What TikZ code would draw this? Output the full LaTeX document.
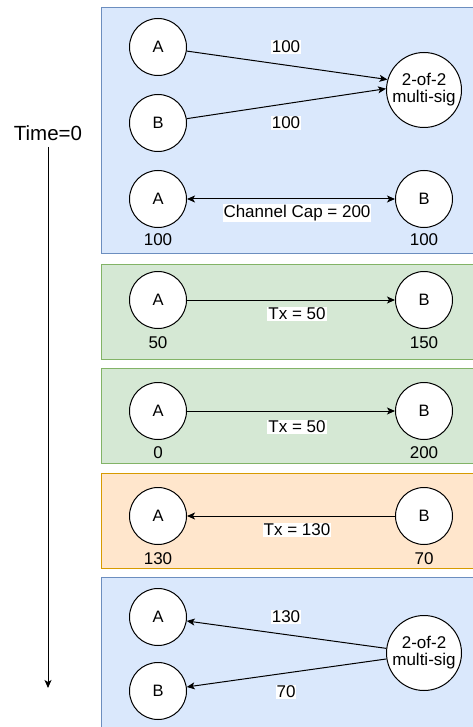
\documentclass[tikz,border=0pt]{standalone}
\usepackage{fontspec}
\setmainfont{Liberation Sans}
\usetikzlibrary{arrows.meta}
\definecolor{bluefill}{HTML}{DAE8FC}
\definecolor{bluedraw}{HTML}{6C8EBF}
\definecolor{greenfill}{HTML}{D5E8D4}
\definecolor{greendraw}{HTML}{82B366}
\definecolor{orangefill}{HTML}{FFE6CC}
\definecolor{orangedraw}{HTML}{D79B00}
\begin{document}
\begin{tikzpicture}[x=1pt,y=-1pt,
  party/.style={circle,draw,line width=1pt,fill=white,minimum size=57pt,inner sep=0pt,font=\fontsize{16.5}{19}\selectfont},
  msig/.style={circle,draw,line width=1pt,fill=white,minimum size=75pt,inner sep=0pt,align=center,font=\fontsize{17}{17}\selectfont},
  elabel/.style={fill=white,inner sep=1pt,font=\fontsize{17}{19}\selectfont},
  bal/.style={inner sep=0pt,font=\fontsize{17}{19}\selectfont},
  arr/.style={-{Stealth[length=8pt,width=7pt,inset=2pt]},line width=1pt},
  darr/.style={{Stealth[length=8pt,width=7pt,inset=2pt]}-{Stealth[length=8pt,width=7pt,inset=2pt]},line width=1pt},
  panel/.style={line width=1pt}]
\useasboundingbox (0,0) rectangle (473,727);
\clip (0,0) rectangle (473,727);
\fill[white] (0,0) rectangle (473,727);

% panels
\filldraw[panel,fill=bluefill,draw=bluedraw] (101,8) rectangle (490,253);
\filldraw[panel,fill=greenfill,draw=greendraw] (101,264) rectangle (490,359);
\filldraw[panel,fill=greenfill,draw=greendraw] (101,368) rectangle (490,463);
\filldraw[panel,fill=orangefill,draw=orangedraw] (101,473) rectangle (490,568);
\filldraw[panel,fill=bluefill,draw=bluedraw] (101,577) rectangle (490,740);

% time axis
\node[font=\fontsize{20.5}{24}\selectfont] (time) at (48,133) {Time=0};
\coordinate (tend) at (48,688);
\draw[arr] (48,147) -- (tend);

% panel 1
\node[party] (a1) at (158,47) {A};
\node[party] (b1) at (158,123) {B};
\node[msig] (m1) at (424,90) {2-of-2\\multi-sig};
\draw[arr] (a1) -- (m1.164);
\draw[arr] (b1) -- (m1.178);
\node[elabel] (l1a) at (286,47) {100};
\node[elabel] (l1b) at (286,123) {100};

\node[party] (a2) at (158,199) {A};
\node[party] (b2) at (424,199) {B};
\draw[darr] (a2) -- (b2);
\node[elabel] (l2) at (297,213) {Channel Cap = 200};
\node[bal] (ba2) at (158,240) {100};
\node[bal] (bb2) at (424,240) {100};

% panel 2
\node[party] (a3) at (158,300) {A};
\node[party] (b3) at (424,300) {B};
\draw[arr] (a3) -- (b3);
\node[elabel] (l3) at (297,314) {Tx = 50};
\node[bal] (ba3) at (158,343) {50};
\node[bal] (bb3) at (424,343) {150};

% panel 3
\node[party] (a4) at (158,411) {A};
\node[party] (b4) at (424,411) {B};
\draw[arr] (a4) -- (b4);
\node[elabel] (l4) at (297,427) {Tx = 50};
\node[bal] (ba4) at (158,453) {0};
\node[bal] (bb4) at (424,453) {200};

% panel 4
\node[party] (a5) at (158,516) {A};
\node[party] (b5) at (424,516) {B};
\draw[arr] (b5) -- (a5);
\node[elabel] (l5) at (297,530) {Tx = 130};
\node[bal] (ba5) at (158,559) {130};
\node[bal] (bb5) at (424,559) {70};

% panel 5
\node[party] (a6) at (158,617) {A};
\node[party] (b6) at (158,691) {B};
\node[msig] (m6) at (424,653) {2-of-2\\multi-sig};
\draw[arr] (m6.173) -- (a6);
\draw[arr] (m6.189) -- (b6);
\node[elabel] (l6a) at (286,617) {130};
\node[elabel] (l6b) at (286,692) {70};
\end{tikzpicture}
\end{document}
